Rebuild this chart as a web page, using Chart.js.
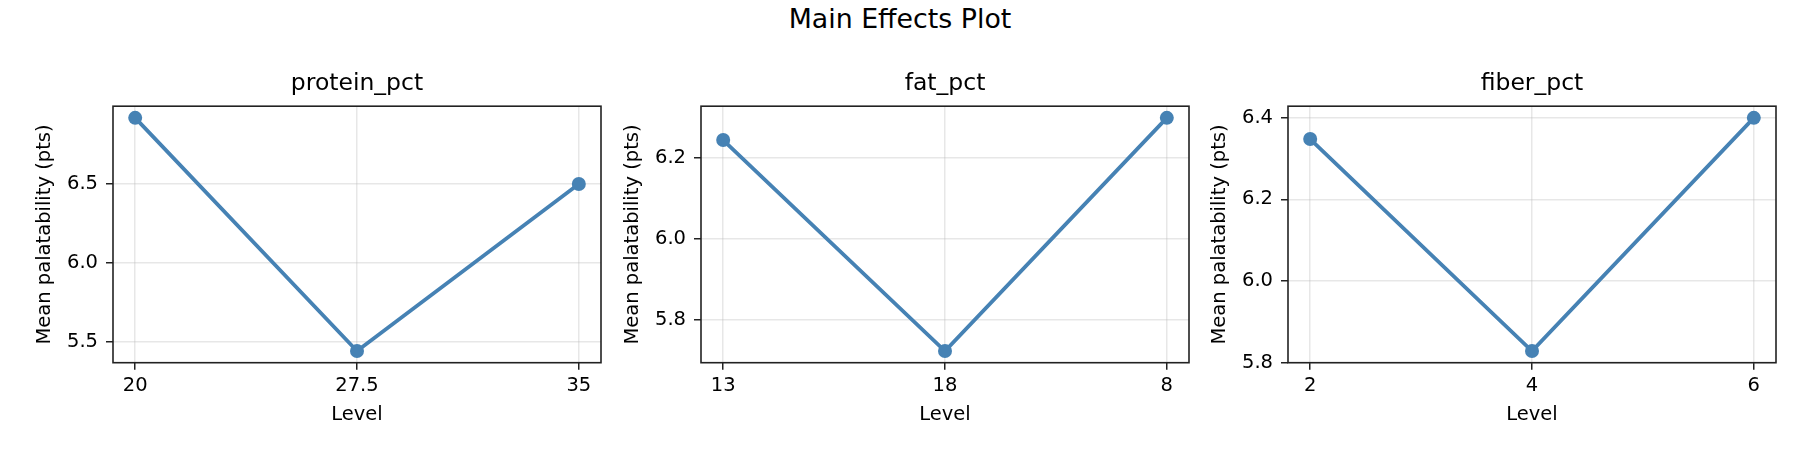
<!DOCTYPE html>
<html>
<head>
<meta charset="utf-8">
<script src="https://cdn.jsdelivr.net/npm/chart.js@4.4.1/dist/chart.umd.min.js"></script>
<style>
  html, body { margin: 0; padding: 0; background: #ffffff; }
  #wrap { position: relative; width: 1800px; height: 450px; overflow: hidden; background: #fff; }
  #suptitle { position: absolute; left: 0; top: 6px; width: 1800px; text-align: center;
              font-family: "DejaVu Sans", sans-serif; font-size: 26.8px; line-height: 1; color: #000; }
  canvas { position: absolute; top: 0; }
</style>
</head>
<body>
<div id="wrap">
  <div id="suptitle">Main Effects Plot</div>
  <canvas id="c0" width="714" height="450" style="left:0px"></canvas>
  <canvas id="c1" width="714" height="450" style="left:588px"></canvas>
  <canvas id="c2" width="714" height="450" style="left:1175px"></canvas>
</div>
<script>
// ---- data ----
const factorNames = ['protein_pct', 'fat_pct', 'fiber_pct'];

const proteinLevels = ['20', '27.5', '35'];
const proteinMeans  = [6.92, 5.44, 6.50];
const proteinTicks  = [5.5, 6.0, 6.5];

const fatLevels = ['13', '18', '8'];
const fatMeans  = [6.245, 5.722, 6.30];
const fatTicks  = [5.8, 6.0, 6.2];

const fiberLevels = ['2', '4', '6'];
const fiberMeans  = [6.348, 5.828, 6.40];
const fiberTicks  = [5.8, 6.0, 6.2, 6.4];

const xAxisTitle = 'Level';
const yAxisTitle = 'Mean palatability (pts)';

// ---- styling ----
const FONT = 'DejaVu Sans';
const LINE_COLOR = '#4682b4';
const GRID_COLOR = 'rgba(176,176,176,0.3)';
const SPINE_COLOR = '#222222';

const framePlugin = {
  id: 'frame',
  afterDraw(chart) {
    const { ctx, chartArea: a } = chart;
    ctx.save();
    ctx.strokeStyle = SPINE_COLOR;
    ctx.lineWidth = 1.6;
    ctx.strokeRect(a.left, a.top, a.right - a.left, a.bottom - a.top);
    ctx.restore();
  }
};

function makeChart(canvasId, title, levels, means, yTicks) {
  const lo = Math.min(...means), hi = Math.max(...means);
  const m = (hi - lo) * 0.05;
  const points = means.map((v, i) => ({ x: i, y: v }));
  const xTickVals = levels.map((_, i) => i);

  new Chart(document.getElementById(canvasId), {
    type: 'line',
    data: {
      datasets: [{
        data: points,
        xAxisID: 'x',
        yAxisID: 'y',
        borderColor: LINE_COLOR,
        backgroundColor: LINE_COLOR,
        borderWidth: 3.8,
        pointRadius: 7,
        pointHoverRadius: 7,
        pointBorderWidth: 0,
        tension: 0,
        fill: false
      }]
    },
    options: {
      responsive: false,
      animation: false,
      devicePixelRatio: 1,
      layout: { padding: { top: 70, left: 0, right: 0, bottom: 0 } },
      plugins: {
        legend: { display: false },
        tooltip: { enabled: false },
        title: {
          display: true,
          text: title,
          color: '#000',
          font: { family: FONT, size: 23.5, weight: 'normal' },
          padding: { top: 0, bottom: 8 }
        }
      },
      scales: {
        x: {
          type: 'linear',
          min: -0.1,
          max: levels.length - 1 + 0.1,
          afterBuildTicks: s => { s.ticks = xTickVals.map(v => ({ value: v })); },
          afterFit: s => { s.height = 87.3; },
          ticks: {
            callback: (v, i) => levels[i],
            color: '#000',
            font: { family: FONT, size: 19.5 },
            padding: 5,
            maxRotation: 0,
            autoSkip: false
          },
          grid: { color: GRID_COLOR, lineWidth: 1.5, tickLength: 7, tickColor: SPINE_COLOR, tickWidth: 1.5 },
          border: { display: false },
          title: {
            display: true, text: xAxisTitle, color: '#000',
            font: { family: FONT, size: 19.5 },
            padding: { top: 0, bottom: 23 }
          }
        },
        y: {
          type: 'linear',
          position: 'left',
          min: lo - m,
          max: hi + m,
          afterBuildTicks: s => { s.ticks = yTicks.map(v => ({ value: v })); },
          afterFit: s => { s.width = 113; },
          ticks: {
            callback: v => v.toFixed(1),
            color: '#000',
            font: { family: FONT, size: 19.5 },
            padding: 8
          },
          grid: { color: GRID_COLOR, lineWidth: 1.5, tickLength: 7, tickColor: SPINE_COLOR, tickWidth: 1.5 },
          border: { display: false },
          title: {
            display: true, text: yAxisTitle, color: '#000',
            font: { family: FONT, size: 19.5 },
            padding: { top: 33.5, bottom: 0 }
          }
        },
        ySpacer: {
          type: 'linear',
          position: 'right',
          min: lo - m,
          max: hi + m,
          afterFit: s => { s.width = 113; },
          ticks: { display: false },
          grid: { display: false, drawTicks: false },
          border: { display: false },
          title: { display: false }
        }
      }
    },
    plugins: [framePlugin]
  });
}

makeChart('c0', factorNames[0], proteinLevels, proteinMeans, proteinTicks);
makeChart('c1', factorNames[1], fatLevels, fatMeans, fatTicks);
makeChart('c2', factorNames[2], fiberLevels, fiberMeans, fiberTicks);
</script>
</body>
</html>
